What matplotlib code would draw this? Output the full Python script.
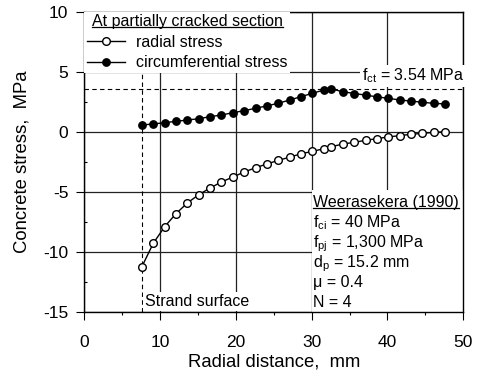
import matplotlib
matplotlib.use("Agg")
from matplotlib import pyplot
from matplotlib.patches import Rectangle

# radial distance from strand centre, mm (extra point at the crack tip)
radius = [7.6, 9.1, 10.6, 12.1, 13.6, 15.1, 16.6, 18.1, 19.6, 21.1, 22.6, 24.1,
          25.6, 27.1, 28.6, 30.1, 31.6, 32.6, 34.1, 35.6, 37.1, 38.6, 40.1,
          41.6, 43.1, 44.6, 46.1, 47.6]
radial = [-11.25, -9.3, -7.92, -6.83, -5.94, -5.25, -4.69, -4.19, -3.78, -3.36,
          -3.0, -2.69, -2.39, -2.12, -1.84, -1.64, -1.42, -1.25, -1.03, -0.89,
          -0.72, -0.58, -0.44, -0.33, -0.22, -0.14, -0.06, 0.0]
circumferential = [0.56, 0.64, 0.75, 0.86, 0.97, 1.08, 1.25, 1.39, 1.58, 1.75,
                   1.95, 2.15, 2.37, 2.64, 2.92, 3.2, 3.47, 3.56, 3.33, 3.18,
                   3.05, 2.9, 2.78, 2.64, 2.55, 2.45, 2.36, 2.31]
f_ct = 3.54
strand_surface = 7.6
params = ["f$_{ci}$ = 40 MPa", "f$_{pj}$ = 1,300 MPa", "d$_p$ = 15.2 mm",
          "\u03bc = 0.4", "N = 4"]

matplotlib.rcParams.update({
    "font.family": ["Liberation Sans", "DejaVu Sans"],
    "mathtext.default": "regular",
    "axes.unicode_minus": False,
    "font.size": 11.5,
})

fig = pyplot.figure(figsize=(4.8, 3.76), dpi=100)
ax = fig.add_axes([0.1756, 0.171, 0.7896, 0.798])

ax.set_xlim(0, 50)
ax.set_ylim(-15, 10)
ax.set_xticks(range(0, 51, 10))
ax.set_xticks(range(5, 50, 10), minor=True)
ax.set_yticks(range(-15, 11, 5))
ax.set_yticks([-12.5, -7.5, -2.5, 2.5, 7.5], minor=True)
ax.tick_params(which="major", direction="out", length=5.5, width=0.8, labelsize=12.5)
ax.tick_params(axis="x", which="major", pad=11)
ax.tick_params(axis="y", which="major", pad=6)
ax.tick_params(axis="x", which="minor", direction="out", length=2.5, width=0.8)
ax.tick_params(axis="y", which="minor", direction="in", length=2.5, width=0.8)
for s in ax.spines.values():
    s.set_linewidth(1.0)
ax.grid(True, which="major", color="#222222", linewidth=0.9)
ax.set_axisbelow(True)

ax.set_xlabel("Radial distance,  mm", fontsize=13.3, labelpad=2.5)
ax.set_ylabel("Concrete stress,  MPa", fontsize=13.3, labelpad=9)

ax.axhline(f_ct, color="black", linestyle=(0, (4, 3)), linewidth=0.8, zorder=1.5)
ax.axvline(strand_surface, color="black", linestyle=(0, (4, 3)), linewidth=0.8, zorder=1.5)

ax.plot(radius, radial, color="black", linewidth=1.0, marker="o", markersize=5.5,
        markerfacecolor="white", markeredgecolor="black", markeredgewidth=1.0,
        label="radial stress", zorder=3)
ax.plot(radius, circumferential, color="black", linewidth=1.0, marker="o",
        markersize=5.3, label="circumferential stress", zorder=3)

leg = ax.legend(loc="upper left", bbox_to_anchor=(0, 1), borderaxespad=0,
                borderpad=0.15, handlelength=2.4, handletextpad=0.7,
                labelspacing=0.35, title="At partially cracked section",
                title_fontsize=11.5, frameon=True, fancybox=False,
                framealpha=1, edgecolor="none", facecolor="white")
leg.set_zorder(4)

ax.text(36.6, 4.64, "f$_{ct}$ = 3.54 MPa", ha="left", va="center",
        bbox=dict(facecolor="white", edgecolor="none", pad=1.5), zorder=4)

ax.add_patch(Rectangle((30.1, -15), 19.9, 10.1, facecolor="white",
                       edgecolor="none", zorder=2))
title = ax.text(30.2, -6.29, "Weerasekera (1990)", ha="left", va="baseline", zorder=4)
for i, p in enumerate(params):
    ax.text(30.2, -7.96 - 1.667 * i, p, ha="left", va="baseline", zorder=4)

ax.text(8.0, -14.17, "Strand surface", ha="left", va="center",
        bbox=dict(facecolor="white", edgecolor="none", pad=1.5), zorder=4)

# underline the two headings
fig.canvas.draw()
inv = ax.transData.inverted()
for t, ypix_off in ((title, 2.5), (leg.get_title(), 2.5)):
    bb = t.get_window_extent()
    (x0, y0), (x1, _) = inv.transform([(bb.x0, bb.y0 + ypix_off), (bb.x1, bb.y0)])
    ax.plot([x0, x1], [y0, y0], color="black", linewidth=0.9, zorder=5)

fig.savefig("out.png", dpi=100)
